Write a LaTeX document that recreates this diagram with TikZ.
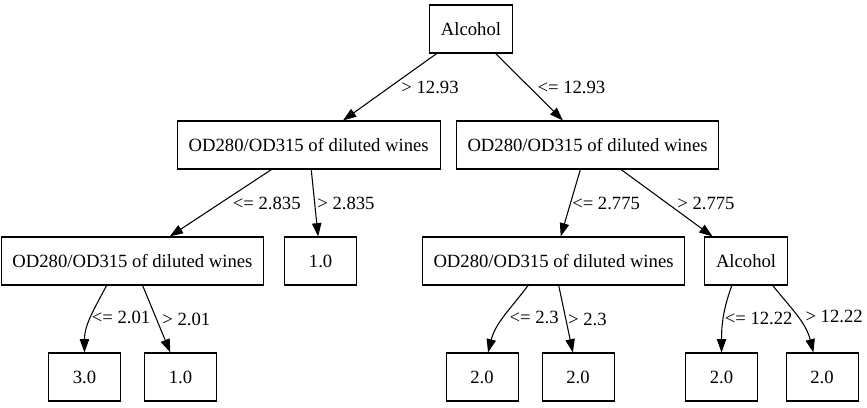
\documentclass[tikz,border=0pt]{standalone}
\usepackage{fontspec}
\setmainfont{Liberation Serif}
\usetikzlibrary{arrows.meta}

\begin{document}
\begin{tikzpicture}[node distance=87pt, font=\fontsize{14}{16}\selectfont,
  box/.style={draw, line width=0.8pt, minimum width=54pt, minimum height=36pt, inner xsep=8.5pt},
  cond/.style={anchor=west, inner sep=0pt},
  >={Triangle[length=10pt, width=7pt]}]
\useasboundingbox (-353.25pt,21.75pt) rectangle (297pt,-283.5pt);
\node[box] (A) at (0,0) {Alcohol};
\node[box, below of=A, xshift=-121.7pt] (O1) {OD280/OD315 of diluted wines};
\node[box, below of=A, xshift=87.4pt] (O2) {OD280/OD315 of diluted wines};
\node[box, below of=O1, xshift=-132.2pt] (O3) {OD280/OD315 of diluted wines};
\node[box, below of=O1, xshift=8.9pt] (L1) {1.0};
\node[box, below of=O2, xshift=-25.5pt] (O4) {OD280/OD315 of diluted wines};
\node[box, below of=O2, xshift=118.9pt] (A2) {Alcohol};
\node[box, below of=O3, xshift=-36pt] (L2) {3.0};
\node[box, below of=O3, xshift=36pt] (L3) {1.0};
\node[box, below of=O4, xshift=-53.6pt] (L4) {2.0};
\node[box, below of=O4, xshift=18.4pt] (L5) {2.0};
\node[box, below of=A2, xshift=-18.4pt] (L6) {2.0};
\node[box, below of=A2, xshift=57pt] (L7) {2.0};
\draw[->, line width=0.8pt] (A) -- node[cond, xshift=8.25pt] {> 12.93} (O1);
\draw[->, line width=0.8pt] (A) -- node[cond, xshift=5.8pt] {<= 12.93} (O2);
\draw[->, line width=0.8pt] (O1) -- node[cond, xshift=8.8pt] {<= 2.835} (O3);
\draw[->, line width=0.8pt] (O1) -- node[cond, xshift=1.6pt] {> 2.835} (L1);
\draw[->, line width=0.8pt] (O2) -- node[cond, xshift=0.9pt] {<= 2.775} (O4);
\draw[->, line width=0.8pt] (O2) -- node[cond, xshift=7.5pt] {> 2.775} (A2);
\draw[->, line width=0.8pt] ([xshift=-19.4pt]O3.south) to[out=-118, in=90] node[cond, xshift=0.5pt] {<= 2.01} (L2);
\draw[->, line width=0.8pt] (O3) -- node[cond, xshift=4pt] {> 2.01} (L3);
\draw[->, line width=0.8pt] ([xshift=-19.1pt]O4.south) to[out=-127, in=76] node[cond, xshift=3.9pt] {<= 2.3} ([xshift=4.5pt]L4.north);
\draw[->, line width=0.8pt] (O4) -- node[cond, xshift=1.3pt] {> 2.3} (L5);
\draw[->, line width=0.8pt] ([xshift=-10.7pt]A2.south) to[out=-110, in=90] node[cond, xshift=0.75pt] {<= 12.22} (L6);
\draw[->, line width=0.8pt] ([xshift=20pt]A2.south) to[out=-51, in=104] node[cond, xshift=5.6pt] {> 12.22} ([xshift=-6.5pt]L7.north);
\end{tikzpicture}
\end{document}
